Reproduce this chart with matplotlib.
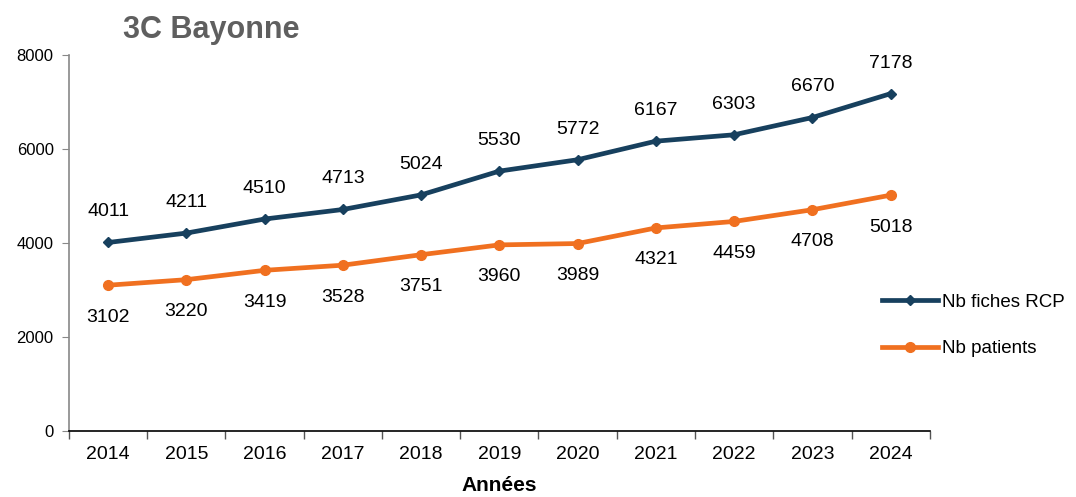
import matplotlib
matplotlib.use("Agg")
import matplotlib.pyplot as plt

plt.rcParams['font.family'] = ['Liberation Sans', 'DejaVu Sans']

years = ['2014', '2015', '2016', '2017', '2018', '2019', '2020', '2021', '2022', '2023', '2024']
fiches = [4011, 4211, 4510, 4713, 5024, 5530, 5772, 6167, 6303, 6670, 7178]
patients = [3102, 3220, 3419, 3528, 3751, 3960, 3989, 4321, 4459, 4708, 5018]

blue = '#17405E'
orange = '#F07020'

fig = plt.figure(figsize=(10.76, 4.97), dpi=100)
ax = fig.add_axes([0.0641, 0.1328, 0.8000, 0.7565])
x = list(range(len(years)))
ax.plot(x, fiches, color=blue, lw=3.4, marker='D', ms=5, label='Nb fiches RCP')
ax.plot(x, patients, color=orange, lw=3.4, marker='o', ms=7, label='Nb patients')

for xi, v in zip(x, fiches):
    ax.annotate(str(v), (xi, v), xytext=(0, 22), textcoords='offset points',
                ha='center', va='center', fontsize=14)
for xi, v in zip(x, patients):
    ax.annotate(str(v), (xi, v), xytext=(0, -23), textcoords='offset points',
                ha='center', va='center', fontsize=14)

ax.set_xlim(-0.5, 10.5)
ax.set_ylim(0, 8000)
ax.set_yticks([0, 2000, 4000, 6000, 8000])
ax.set_xticks(x)
ax.set_xticklabels(years, fontsize=14)
ax.set_xticks([i - 0.5 for i in range(12)], minor=True)
ax.tick_params(axis='x', which='major', length=0, pad=11)
ax.tick_params(axis='x', which='minor', length=6, color='#555555', width=1)
ax.tick_params(axis='y', labelsize=12, length=5, color='#888888', pad=6)
for s in ['top', 'right']:
    ax.spines[s].set_visible(False)
ax.spines['left'].set_color('#888888')
ax.spines['left'].set_linewidth(1.2)
ax.spines['bottom'].set_color('black')
ax.spines['bottom'].set_linewidth(1.2)

ax.set_xlabel('Années', fontsize=15, fontweight='bold', labelpad=9)
fig.text(0.196, 0.94, '3C Bayonne', fontsize=22, fontweight='bold', color='#5F5F5F',
         ha='center', va='center')

ax.legend(loc='center left', bbox_to_anchor=(0.8125, 0.345), bbox_transform=fig.transFigure,
          frameon=False, fontsize=13.5, handlelength=3.0, labelspacing=1.55, handletextpad=0.2,
          borderaxespad=0)

fig.savefig('out.png', dpi=100)
